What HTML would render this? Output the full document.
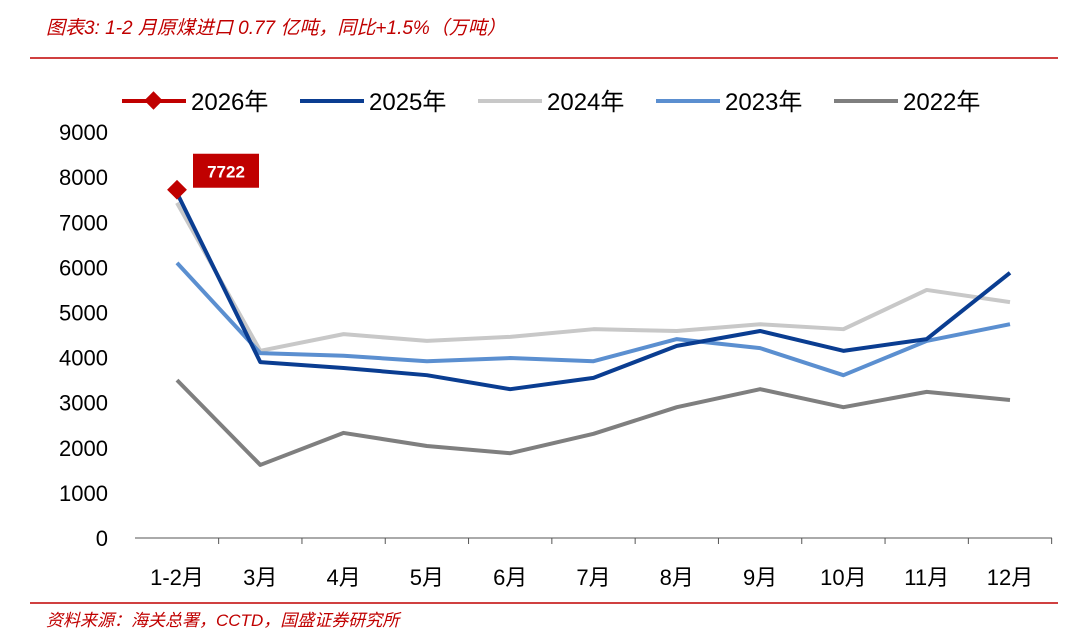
<!DOCTYPE html>
<html><head><meta charset="utf-8">
<style>
body{margin:0;background:#fff;width:1080px;height:637px;overflow:hidden;font-family:"Liberation Sans","Noto Sans CJK SC",sans-serif;}
</style></head>
<body>
<svg id="chart" width="1080" height="637" xmlns="http://www.w3.org/2000/svg">
<text x="46" y="34" font-size="19" font-style="italic" fill="#c00000" font-family="Liberation Sans,Noto Sans CJK SC,sans-serif">图表3:  1-2 月原煤进口 0.77 亿吨，同比+1.5%（万吨）</text>
<line x1="30" y1="58" x2="1058" y2="58" stroke="#c00000" stroke-width="1.5"/>
<line x1="30" y1="603" x2="1058" y2="603" stroke="#c00000" stroke-width="1.5"/>
<text x="46" y="626" font-size="17" font-style="italic" fill="#c00000" font-family="Liberation Sans,Noto Sans CJK SC,sans-serif">资料来源：海关总署，CCTD，国盛证券研究所</text>
<g id="axes"></g><g id="series"></g><g id="legend"></g>
</svg>
<script>
const categories=["1-2月","3月","4月","5月","6月","7月","8月","9月","10月","11月","12月"];
const yTicks=[0,1000,2000,3000,4000,5000,6000,7000,8000,9000];
const s2026=[7722];
const s2025=[7650,3900,3770,3610,3300,3550,4260,4590,4150,4410,5880];
const s2024=[7430,4150,4520,4370,4460,4630,4590,4740,4630,5500,5230];
const s2023=[6100,4100,4040,3920,3990,3920,4410,4210,3610,4370,4740];
const s2022=[3500,1620,2330,2040,1880,2310,2900,3300,2900,3240,3060];
const NS="http://www.w3.org/2000/svg";
const x=i=>177+i*83.3;
const y=v=>538-v*0.0451;
function mk(tag,attrs,parent){const e=document.createElementNS(NS,tag);for(const k in attrs)e.setAttribute(k,attrs[k]);parent.appendChild(e);return e;}
const axes=document.getElementById('axes');
let ax=mk('line',{x1:135,y1:538,x2:1052,y2:538,stroke:'#555','stroke-width':1},axes);


yTicks.forEach(t=>{const tx=mk('text',{x:108,y:y(t)+8,'font-size':22,'text-anchor':'end',fill:'#000'},axes);tx.textContent=t;

});
categories.forEach((c,i)=>{const tx=mk('text',{x:x(i),y:585,'font-size':22,'text-anchor':'middle',fill:'#000'},axes);tx.textContent=c;


const tk=mk('line',{x1:x(i)+41.65,y1:538,x2:x(i)+41.65,y2:544,stroke:'#555'},axes);

});
const ser=document.getElementById('series');
function line(data,color,name){const p=mk('polyline',{points:data.map((v,i)=>x(i)+','+y(v)).join(' '),fill:'none',stroke:color,'stroke-width':4,'stroke-linejoin':'round'},ser);

}
line(s2022,'#7f7f7f','line-2022');
line(s2024,'#c8c8c8','line-2024');
line(s2023,'#5b8fd0','line-2023');
line(s2025,'#0a3d91','line-2025');
s2026.forEach((v,i)=>{const d=mk('rect',{x:x(i)-7,y:y(v)-7,width:14,height:14,fill:'#c00000',transform:`rotate(45 ${x(i)} ${y(v)})`},ser);


const b=mk('rect',{x:x(i)+16,y:y(v)-36,width:66,height:34,fill:'#c00000'},ser);


const t=mk('text',{x:x(i)+49,y:y(v)-12,'font-size':17,'font-weight':'bold','text-anchor':'middle',fill:'#fff'},ser);t.textContent=v;

});
const lg=document.getElementById('legend');
const items=[["2026年","#c00000",122],["2025年","#0a3d91",300],["2024年","#c8c8c8",478],["2023年","#5b8fd0",656],["2022年","#7f7f7f",834]];
items.forEach((it,k)=>{const g=mk('g',{},lg);


mk('line',{x1:it[2],y1:101,x2:it[2]+64,y2:101,stroke:it[1],'stroke-width':4},g);
if(k===0)mk('rect',{x:it[2]+25,y:94,width:13,height:13,fill:'#c00000',transform:`rotate(45 ${it[2]+31.5} 100.5)`},g);
const t=mk('text',{x:it[2]+69,y:110,'font-size':24,fill:'#000'},g);t.textContent=it[0];});
</script>
</body></html>
